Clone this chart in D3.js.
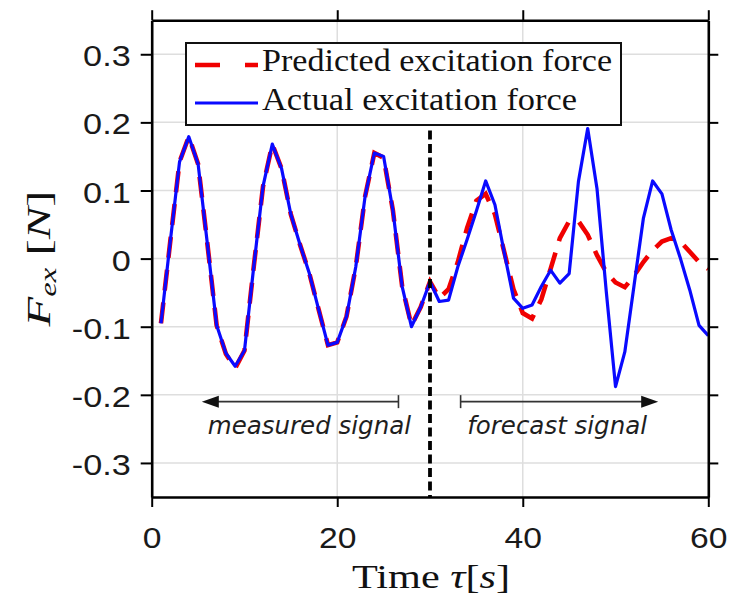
<!DOCTYPE html>
<html>
<head>
<meta charset="utf-8">
<script src="https://cdn.jsdelivr.net/npm/d3@7"></script>
<style>
  html, body { margin: 0; padding: 0; background: #fff; }
  svg { display: block; }
</style>
</head>
<body>
<svg id="chart" width="737" height="597"></svg>
<script>
// Sample times (s)
const time = [1,2,3,4,5,6,7,8,9,10,11,12,13,14,15,16,17,18,19,20,
              21,22,23,24,25,26,27,28,29,30,31,32,33,34,35,36,37,38,39,40,
              41,42,43,44,45,46,47,48,49,50,51,52,53,54,55,56,57,58,59,60];

// Actual excitation force (N)
const actualForce = [-0.095, 0.025, 0.142, 0.179, 0.139, 0.022, -0.098, -0.139, -0.158, -0.135,
                     -0.012, 0.106, 0.168, 0.132, 0.065, 0.020, -0.022, -0.075, -0.127, -0.123,
                     -0.085, -0.012, 0.091, 0.155, 0.150, 0.071, -0.041, -0.100, -0.071, -0.034,
                     -0.063, -0.061, -0.012, 0.028, 0.070, 0.114, 0.079, 0.009, -0.058, -0.073,
                     -0.068, -0.041, -0.017, -0.036, -0.022, 0.113, 0.191, 0.103, -0.048, -0.188,
                     -0.137, -0.039, 0.059, 0.114, 0.095, 0.042, 0.000, -0.046, -0.098, -0.113];

// Predicted excitation force (N)
const predictedForce = [-0.095, 0.025, 0.142, 0.179, 0.139, 0.022, -0.098, -0.140, -0.161, -0.135,
                        -0.012, 0.106, 0.168, 0.132, 0.065, 0.020, -0.022, -0.075, -0.127, -0.123,
                        -0.085, -0.012, 0.091, 0.155, 0.148, 0.071, -0.041, -0.098, -0.071, -0.034,
                        -0.058, -0.045, -0.005, 0.045, 0.085, 0.095, 0.065, 0.010, -0.045, -0.080,
                        -0.088, -0.060, -0.015, 0.030, 0.055, 0.055, 0.035, 0.005, -0.020, -0.035,
                        -0.042, -0.025, -0.005, 0.012, 0.025, 0.030, 0.025, 0.010, -0.005, -0.015];

// Axis ticks
const xTicks = [0, 20, 40, 60];
const yTicks = [-0.3, -0.2, -0.1, 0, 0.1, 0.2, 0.3];

// Boundary between measured and forecast parts
const splitTime = 30;
const splitTop = 0.188;

// Annotation arrows: [from, to] in seconds, at force level arrowLevel
const measuredSpan = [26.6, 5.4];
const forecastSpan = [33.3, 54.6];
const arrowLevel = -0.21;
const noteLevel = -0.257;
const notes = [
  { t: 17.0, text: "measured signal" },
  { t: 43.7, text: "forecast signal" }
];

const legendLabels = ["Predicted excitation force", "Actual excitation force"];

const red = "#f00000";
const blue = "#0a0aff";

const svg = d3.select("#chart");
const plotLeft = 151.7, plotRight = 708.3, plotTop = 20.2, plotBottom = 497;

const x = d3.scaleLinear().domain([0, 60]).range([plotLeft, plotRight]);
const y = d3.scaleLinear().domain([-0.35, 0.35]).range([plotBottom, plotTop]);

// Widen text horizontally by factor k (wide-set figure lettering)
function widen(sel, k) {
  sel.each(function () {
    const w = this.getComputedTextLength();
    d3.select(this).attr("textLength", w * k).attr("lengthAdjust", "spacingAndGlyphs");
  });
}
function fitWidth(sel, width) {
  sel.attr("textLength", width).attr("lengthAdjust", "spacingAndGlyphs");
}

// Grid
const grid = svg.append("g").attr("stroke", "#dedede").attr("stroke-width", 1.5);
grid.selectAll("line.v").data(xTicks.slice(1, -1)).join("line")
  .attr("class", "v")
  .attr("x1", d => x(d)).attr("x2", d => x(d))
  .attr("y1", plotTop).attr("y2", plotBottom);
grid.selectAll("line.h").data(yTicks).join("line")
  .attr("class", "h")
  .attr("x1", plotLeft).attr("x2", plotRight)
  .attr("y1", d => y(d)).attr("y2", d => y(d));

// Series
const series = time.map((t, i) => ({ t, a: actualForce[i], p: predictedForce[i] }));
const plot = svg.append("g");

plot.append("path")
  .datum(series)
  .attr("fill", "none")
  .attr("stroke", red)
  .attr("stroke-width", 4.6)
  .attr("stroke-dasharray", "21,12")
  .attr("d", d3.line().x(d => x(d.t)).y(d => y(d.p)));

plot.append("path")
  .datum(series)
  .attr("fill", "none")
  .attr("stroke", blue)
  .attr("stroke-width", 3.2)
  .attr("stroke-linejoin", "round")
  .attr("d", d3.line().x(d => x(d.t)).y(d => y(d.a)));

// Measured / forecast split line
svg.append("line")
  .attr("x1", x(splitTime)).attr("x2", x(splitTime))
  .attr("y1", y(splitTop)).attr("y2", y(-0.35))
  .attr("stroke", "#000").attr("stroke-width", 3.8)
  .attr("stroke-dasharray", "9,4.5");

// Annotation arrows
function arrow(span) {
  const g = svg.append("g").attr("stroke", "#333").attr("fill", "#111");
  const x0 = x(span[0]), x1 = x(span[1]), yy = y(arrowLevel);
  const dir = Math.sign(x1 - x0);
  const head = 17, half = 6;
  g.append("line").attr("x1", x0).attr("x2", x1 - dir * head + dir * 2)
    .attr("y1", yy).attr("y2", yy).attr("stroke-width", 1.6);
  g.append("line").attr("x1", x0).attr("x2", x0)
    .attr("y1", yy - 6.5).attr("y2", yy + 6.5).attr("stroke-width", 1.6);
  g.append("path").attr("stroke", "none")
    .attr("d", `M${x1},${yy} L${x1 - dir * head},${yy - half} L${x1 - dir * head},${yy + half} Z`);
}
arrow(measuredSpan);
arrow(forecastSpan);

svg.selectAll("text.note").data(notes).join("text")
  .attr("class", "note")
  .attr("x", d => x(d.t)).attr("y", y(noteLevel))
  .attr("text-anchor", "middle")
  .attr("font-family", "DejaVu Sans")
  .attr("font-style", "italic")
  .attr("font-size", 24.5)
  .attr("fill", "#1e1e1e")
  .text(d => d.text);

// Axes (box with outward ticks)
const tickFont = g => g.selectAll("text")
  .attr("font-family", "Liberation Sans, Arial, sans-serif")
  .attr("font-size", 29)
  .attr("fill", "#1a1a1a");
const axisStyle = g => {
  g.select(".domain").attr("stroke", "#000").attr("stroke-width", 2.6);
  g.selectAll(".tick line").attr("stroke", "#000").attr("stroke-width", 2);
};

const xAxisG = svg.append("g").attr("transform", `translate(0,${plotBottom})`)
  .call(d3.axisBottom(x).tickValues(xTicks).tickSize(10).tickSizeOuter(0)
        .tickFormat(d3.format("d")))
  .call(axisStyle).call(tickFont)
  .call(g => g.selectAll("text").attr("dy", null).attr("y", 51));
widen(xAxisG.selectAll("text"), 1.16);

svg.append("g").attr("transform", `translate(0,${plotTop})`)
  .call(d3.axisTop(x).tickValues(xTicks).tickSize(10).tickSizeOuter(0).tickFormat(""))
  .call(axisStyle);

const yAxisG = svg.append("g").attr("transform", `translate(${plotLeft},0)`)
  .call(d3.axisLeft(y).tickValues(yTicks).tickSize(11).tickSizeOuter(0).tickPadding(10)
        .tickFormat(d => d === 0 ? "0" : String(d)))
  .call(axisStyle).call(tickFont)
  .call(g => g.selectAll("text").attr("dy", "0.4em"));
widen(yAxisG.selectAll("text"), 1.18);

svg.append("g").attr("transform", `translate(${plotRight},0)`)
  .call(d3.axisRight(y).tickValues(yTicks).tickSize(10).tickSizeOuter(0).tickFormat(""))
  .call(axisStyle);

// Axis titles
const serif = "Liberation Serif, Times New Roman, serif";
const xt = svg.append("text")
  .attr("x", 431).attr("y", 588)
  .attr("text-anchor", "middle")
  .attr("font-family", serif).attr("font-size", 34).attr("fill", "#111");
xt.append("tspan").text("Time ");
xt.append("tspan").attr("font-style", "italic").text("τ");
xt.append("tspan").text("[");
xt.append("tspan").attr("font-style", "italic").text("s");
xt.append("tspan").text("]");
fitWidth(xt, 158);

const yt = svg.append("text")
  .attr("transform", `translate(50,${(plotTop + plotBottom) / 2}) rotate(-90)`)
  .attr("text-anchor", "middle")
  .attr("font-family", serif).attr("font-size", 34).attr("fill", "#111");
yt.append("tspan").attr("font-style", "italic").text("F");
yt.append("tspan").attr("font-style", "italic").attr("font-size", 23).attr("dy", 6).text("ex");
yt.append("tspan").attr("dy", -6).text(" [");
yt.append("tspan").attr("font-style", "italic").text("N");
yt.append("tspan").text("]");
fitWidth(yt, 136);

// Legend
const lg = svg.append("g");
lg.append("rect")
  .attr("x", 186).attr("y", 43).attr("width", 435).attr("height", 82)
  .attr("fill", "#fff").attr("stroke", "#111").attr("stroke-width", 2);
lg.append("line")
  .attr("x1", 195).attr("x2", 258).attr("y1", 65).attr("y2", 65)
  .attr("stroke", red).attr("stroke-width", 4.6).attr("stroke-dasharray", "25,25");
lg.append("line")
  .attr("x1", 195).attr("x2", 258).attr("y1", 103).attr("y2", 103)
  .attr("stroke", blue).attr("stroke-width", 3.2);
const legendWidths = [350, 315];
lg.selectAll("text").data(legendLabels).join("text")
  .attr("x", 262).attr("y", (d, i) => i === 0 ? 71 : 110)
  .attr("font-family", serif).attr("font-size", 32).attr("fill", "#111")
  .attr("textLength", (d, i) => legendWidths[i])
  .attr("lengthAdjust", "spacingAndGlyphs")
  .text(d => d);
</script>
</body>
</html>
